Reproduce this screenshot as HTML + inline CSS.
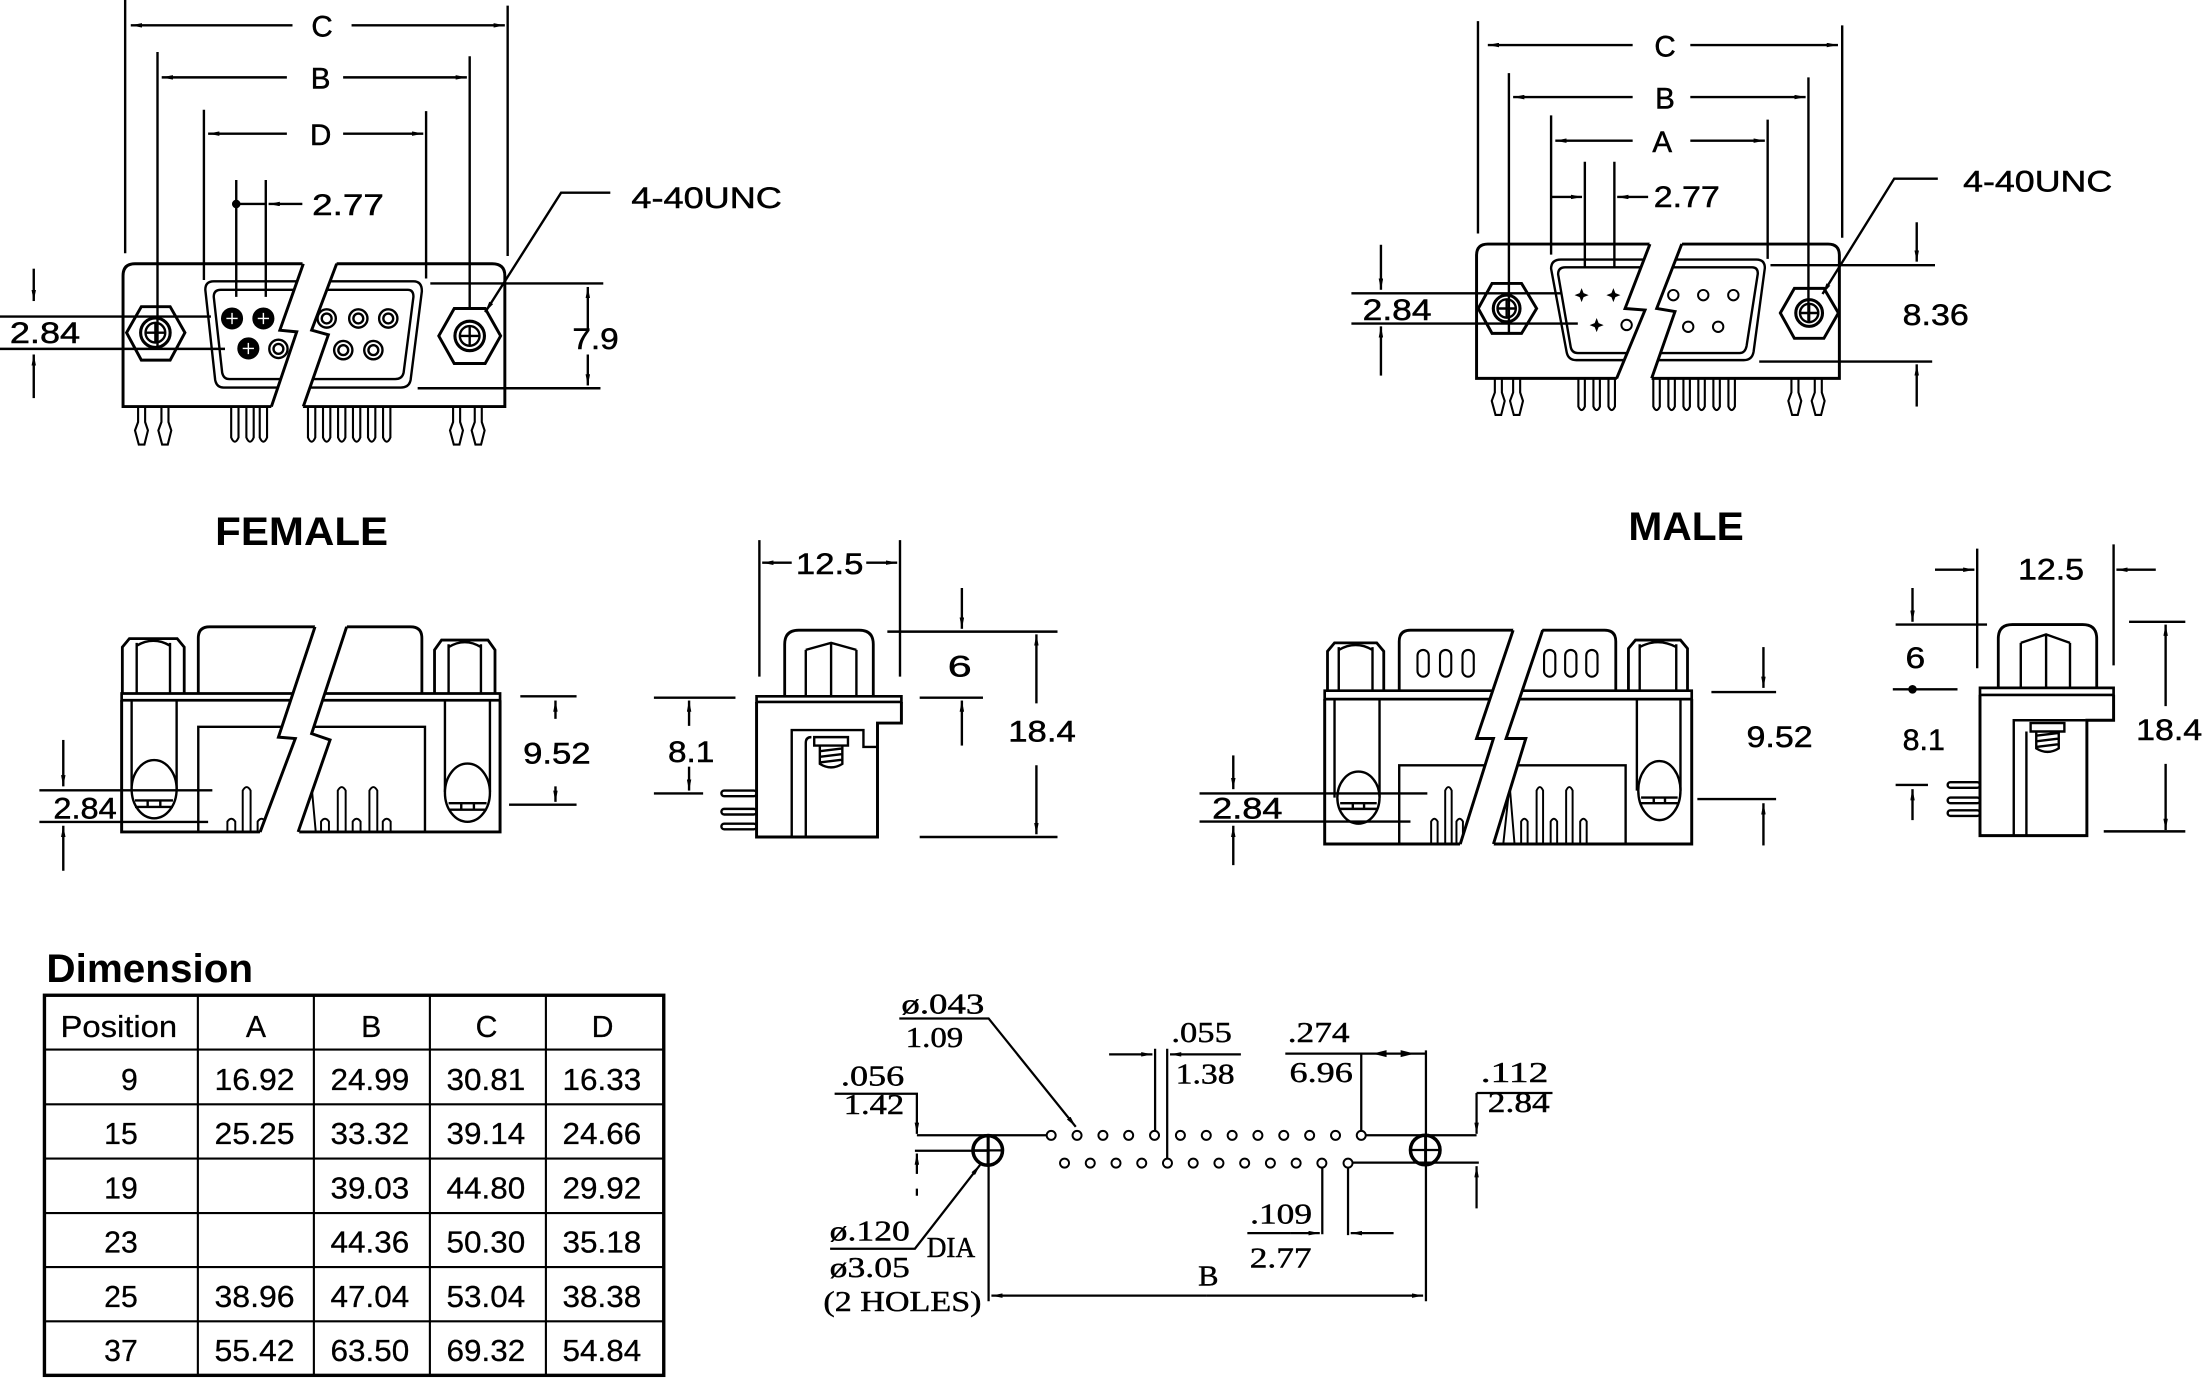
<!DOCTYPE html>
<html><head><meta charset="utf-8"><style>
html,body{margin:0;padding:0;background:#fff;}
svg{display:block}
.s{font-family:"Liberation Sans",Arial,sans-serif;font-size:21px;fill:#000;stroke:#000;stroke-width:0.35px}
.b{font-family:"Liberation Sans",Arial,sans-serif;font-weight:bold;fill:#000}
.m{font-family:"Liberation Serif","DejaVu Serif",serif;font-size:20px;fill:#000;stroke:#000;stroke-width:0.3px}
.t{font-family:"Liberation Sans",Arial,sans-serif;font-size:21.5px;fill:#000;stroke:#000;stroke-width:0.2px}
</style></head><body>
<svg width="2205" height="1380" viewBox="0 0 1568 981" preserveAspectRatio="none" xmlns="http://www.w3.org/2000/svg">
<defs>
<marker id="a" viewBox="0 0 10 4" refX="10" refY="2" markerWidth="8" markerHeight="3.2" markerUnits="userSpaceOnUse" orient="auto"><path d="M0,0L10,2L0,4z" fill="#000"/></marker>
</defs>
<rect width="1568" height="981" fill="#fff"/>

<!-- ================= FEMALE FRONT ================= -->
<g stroke="#000" stroke-width="1.7" fill="none">
<path d="M89,0V180M361,4V182M112,37V247M334,40V220M145,78V199M303,79V198M168,128V211M189,128V211M168,145H189M0,225H150M0,248H160M306,201.5H429M297,276H427"/>
<g marker-end="url(#a)">
<path d="M208,18H93"/><path d="M250,18H359"/><path d="M204,55H115"/><path d="M244,55H332"/>
<path d="M204,95H148"/><path d="M244,95H301"/><path d="M215,145H191"/>
<path d="M434,137H399L345,222"/>
<path d="M24,191V214"/><path d="M24,283V252"/><path d="M418,235V204"/><path d="M418,252V274"/>
</g>
<circle cx="168" cy="145" r="2.2" fill="#000"/>
<path stroke-width="2.1" d="M87.5,289V196Q87.5,187.5 96,187.5H350Q359,187.5 359,196V289Z"/>
<path d="M152,200H294Q300,200 300,207L292,270Q291,275.5 285,275.5H159Q154,275.5 153,270L146,206Q146,200 152,200Z"/>
<path d="M157,206H290Q294,206 294,211L287,265Q286,269.5 281,269.5H163Q159,269.5 158,265L152,211Q152,206 157,206Z"/>
<!-- sockets -->
<circle cx="165" cy="226.4" r="7" fill="#000"/><circle cx="187.3" cy="226.4" r="7" fill="#000"/><circle cx="176.6" cy="247.7" r="7" fill="#000"/>
<path stroke="#fff" stroke-width="1" d="M161,226.4H169M165,222.4V230.4M183.3,226.4H191.3M187.3,222.4V230.4M172.6,247.7H180.6M176.6,243.7V251.7"/>
<circle cx="198" cy="248" r="6.5"/><circle cx="198" cy="248" r="3.5"/>
<circle cx="232.3" cy="226.4" r="6.5"/><circle cx="232.3" cy="226.4" r="3.5"/>
<circle cx="254.8" cy="226.4" r="6.5"/><circle cx="254.8" cy="226.4" r="3.5"/>
<circle cx="276.1" cy="226.4" r="6.5"/><circle cx="276.1" cy="226.4" r="3.5"/>
<circle cx="244.1" cy="248.9" r="6.5"/><circle cx="244.1" cy="248.9" r="3.5"/>
<circle cx="265.5" cy="248.9" r="6.5"/><circle cx="265.5" cy="248.9" r="3.5"/>
<!-- nuts -->
<polygon stroke-width="2.1" points="90,236.5 100.5,218 121,218 131.5,236.5 121,256 100.5,256"/>
<circle cx="110.5" cy="236.5" r="10.5" stroke-width="2.2"/><circle cx="110.5" cy="236.5" r="7"/>
<path d="M103.5,236.5H117.5M110.5,229.5V243.5"/>
<polygon stroke-width="2.1" points="312,238.8 323,219.3 345,219.3 356,238.8 345,258.4 323,258.4"/>
<circle cx="334" cy="238.8" r="10.5" stroke-width="2.2"/><circle cx="334" cy="238.8" r="7"/>
<path d="M327,238.8H341M334,231.8V245.8"/>
<!-- break -->
<polygon fill="#fff" stroke="none" points="215.7,185 199,234.7 211,235.9 192.5,291 215,291 233.5,238 221.6,234.7 240,185"/>
<polyline stroke-width="2.1" points="215.7,187.5 199,234.7 211,235.9 193,289"/>
<polyline stroke-width="2.1" points="239.4,187.5 221.6,234.7 233.5,238 215.7,289"/>
<!-- pins -->
<g stroke-width="1.5">
<path d="M98.2,289.5V300L96,306L98.7,316H102.7L105.2,306L103.2,300V289.5"/>
<path d="M114.8,289.5V300L112.6,306L115.3,316H119.3L121.8,306L119.8,300V289.5"/>
<path d="M322.2,289.5V300L320,306L322.7,316H326.7L329.2,306L327.2,300V289.5"/>
<path d="M337.6,289.5V300L335.4,306L338.1,316H342.1L344.6,306L342.6,300V289.5"/>
<path d="M164.4,289.5V311Q167,317 169.6,311V289.5"/>
<path d="M175.2,289.5V311Q177.8,317 180.4,311V289.5"/>
<path d="M184.7,289.5V311Q187.3,317 189.9,311V289.5"/>
<path d="M219,289.5V311Q221.6,317 224.2,311V289.5"/>
<path d="M229.7,289.5V311Q232.3,317 234.9,311V289.5"/>
<path d="M240.4,289.5V311Q243,317 245.6,311V289.5"/>
<path d="M251,289.5V311Q253.6,317 256.2,311V289.5"/>
<path d="M261.7,289.5V311Q264.3,317 266.9,311V289.5"/>
<path d="M272.4,289.5V311Q275,317 277.6,311V289.5"/>
</g>
</g>
<text class="s" x="229" y="26" text-anchor="middle">C</text>
<text class="s" x="228" y="63" text-anchor="middle">B</text>
<text class="s" x="228" y="103" text-anchor="middle">D</text>
<text class="s" x="222" y="153" font-size="20" textLength="51" lengthAdjust="spacingAndGlyphs">2.77</text>
<text class="s" x="449" y="148" font-size="18.5" textLength="107" lengthAdjust="spacingAndGlyphs">4-40UNC</text>
<text class="s" x="7" y="244" textLength="50" lengthAdjust="spacingAndGlyphs">2.84</text>
<text class="s" x="407" y="248" font-size="23" textLength="33" lengthAdjust="spacingAndGlyphs">7.9</text>

<!-- ================= MALE FRONT ================= -->
<g stroke="#000" stroke-width="1.7" fill="none">
<path d="M1051,15V166M1310,18V169M1073,52V237M1286,55V228M1103,82V181M1257,85V184M1127,115V190M1148,115V190M961,208.5H1110M961,230H1122M1259,188.5H1376M1251,257H1374"/>
<g marker-end="url(#a)">
<path d="M1161,32H1058"/><path d="M1202,32H1307"/><path d="M1161,69H1076"/><path d="M1202,69H1284"/>
<path d="M1161,100H1106"/><path d="M1202,100H1255"/><path d="M1103,140H1125"/><path d="M1172,140H1150"/>
<path d="M1378,127H1347L1296,209"/>
<path d="M982,174V206"/><path d="M982,267V232"/><path d="M1363,158V186"/><path d="M1363,289V259"/>
</g>
<path stroke-width="2.1" d="M1050,269V181.5Q1050,173.5 1058,173.5H1300Q1308,173.5 1308,181.5V269Z"/>
<path d="M1110,184.5H1249Q1255,184.5 1255,190.5L1247,250Q1246,256 1240,256H1121Q1115,256 1114,250L1103,191Q1103,184.5 1110,184.5Z"/>
<path d="M1113,190H1246Q1250,190 1250,194.5L1242,246Q1241,251 1237,251H1122Q1118,251 1117,247L1108,195Q1108,190 1113,190Z"/>
<g fill="#000" stroke="none">
<path d="M1124.7,204.8L1126.1,208.4L1129.7,209.8L1126.1,211.2L1124.7,214.8L1123.3,211.2L1119.7,209.8L1123.3,208.4Z"/>
<path d="M1147.3,204.8L1148.7,208.4L1152.3,209.8L1148.7,211.2L1147.3,214.8L1145.9,211.2L1142.3,209.8L1145.9,208.4Z"/>
<path d="M1135.4,226.1L1136.8,229.7L1140.4,231.1L1136.8,232.5L1135.4,236.1L1134,232.5L1130.4,231.1L1134,229.7Z"/>
</g>
<g stroke-width="1.4">
<circle cx="1156.7" cy="231" r="3.7"/><circle cx="1189.9" cy="209.8" r="3.7"/><circle cx="1211.2" cy="209.8" r="3.7"/>
<circle cx="1232.6" cy="209.8" r="3.7"/><circle cx="1200.5" cy="232.3" r="3.7"/><circle cx="1221.8" cy="232.3" r="3.7"/>
</g>
<polygon stroke-width="2.1" points="1051.2,219.3 1061,201.5 1082,201.5 1092.7,219.3 1082,237 1061,237"/>
<circle cx="1071.4" cy="219.3" r="9.5" stroke-width="2.2"/><circle cx="1071.4" cy="219.3" r="6.5"/>
<path d="M1064.9,219.3H1077.9M1071.4,212.8V225.8"/>
<polygon stroke-width="2.1" points="1266,222.5 1276,205 1297,205 1307.3,222.5 1297,240.5 1276,240.5"/>
<circle cx="1286.5" cy="222.5" r="9.5" stroke-width="2.2"/><circle cx="1286.5" cy="222.5" r="6.5"/>
<path d="M1280,222.5H1293M1286.5,216V229"/>
<polygon fill="#fff" stroke="none" points="1173.3,172 1155.6,219.3 1169.8,220.4 1149.2,271 1174,271 1191.1,221.5 1178.1,219.3 1196.4,172"/>
<polyline stroke-width="2.1" points="1173.3,173.5 1155.6,219.3 1169.8,220.4 1149.6,269"/>
<polyline stroke-width="2.1" points="1195.9,173.5 1178.1,219.3 1191.1,221.5 1174.5,269"/>
<g stroke-width="1.5">
<path d="M1063,269V279L1060.8,285L1063.5,295H1067.5L1070,285L1068,279V269"/>
<path d="M1076,269V279L1073.8,285L1076.5,295H1080.5L1083,285L1081,279V269"/>
<path d="M1273.9,269V279L1271.7,285L1274.4,295H1278.4L1280.9,285L1278.9,279V269"/>
<path d="M1290.5,269V279L1288.3,285L1291,295H1295L1297.5,285L1295.5,279V269"/>
<path d="M1122.4,269V289Q1124.7,294 1127,289V269"/>
<path d="M1133.1,269V289Q1135.4,294 1137.7,289V269"/>
<path d="M1143.8,269V289Q1146.1,294 1148.4,289V269"/>
<path d="M1175.7,269V289Q1178,294 1180.3,289V269"/>
<path d="M1186.4,269V289Q1188.7,294 1191,289V269"/>
<path d="M1197.1,269V289Q1199.4,294 1201.7,289V269"/>
<path d="M1207.7,269V289Q1210,294 1212.3,289V269"/>
<path d="M1218.4,269V289Q1220.7,294 1223,289V269"/>
<path d="M1229.1,269V289Q1231.4,294 1233.7,289V269"/>
</g>
</g>
<text class="s" x="1184" y="40" font-size="20" text-anchor="middle">C</text>
<text class="s" x="1184" y="77" font-size="20" text-anchor="middle">B</text>
<text class="s" x="1182" y="108" font-size="20" text-anchor="middle">A</text>
<text class="s" x="1176" y="147" font-size="20" textLength="47" lengthAdjust="spacingAndGlyphs">2.77</text>
<text class="s" x="1396" y="136" font-size="18.5" textLength="106" lengthAdjust="spacingAndGlyphs">4-40UNC</text>
<text class="s" x="1353" y="231" font-size="20" textLength="47" lengthAdjust="spacingAndGlyphs">8.36</text>
<text class="s" x="969" y="227.5" textLength="49" lengthAdjust="spacingAndGlyphs">2.84</text>

<!-- ================= FEMALE SIDE VIEWS ================= -->
<text class="b" x="153" y="387.5" font-size="28" textLength="123" lengthAdjust="spacingAndGlyphs">FEMALE</text>
<g stroke="#000" stroke-width="1.7" fill="none">
<path stroke-width="2" d="M87,493V460L92,454H126L131,460V493"/>
<path d="M97.2,457V493M120.9,457V493M97.2,459Q109,452 120.9,459"/>
<path stroke-width="2" d="M309,493V462L314,455H347L352,462V493"/>
<path d="M319,458V493M342,458V493M319,460Q330.5,453 342,460"/>
<path stroke-width="2" d="M141,493V453.6Q141,445.6 149,445.6H292Q300,445.6 300,453.6V493"/>
<path stroke-width="1.9" d="M86.5,493H355.6V497.8H86.5Z"/>
<path stroke-width="2.1" d="M86.5,497.8V591.4H355.6V497.8"/>
<path d="M93.6,497.8V561M125.6,497.8V561M316.4,497.8V563M348.4,497.8V563"/>
<ellipse cx="109.6" cy="561" rx="16" ry="20.7" fill="#fff"/>
<ellipse cx="332.4" cy="563.5" rx="16" ry="20.7" fill="#fff"/>
<path d="M96,569H123M96,573.6H123M105,569V573.6M114,569V573.6M319,571H346M319,575.6H346M328,571V575.6M337,571V575.6"/>
<path d="M141,591.4V516.7H302.2V591.4"/>
<g stroke-width="1.4">
<path d="M161.7,591V584Q164.5,580 167.3,584V591"/>
<path d="M172.6,591V562Q175.4,557 178.2,562V591"/>
<path d="M183.2,591V584Q186,580 188.8,584V591"/>
<path d="M212,591L221.6,559L224.5,591"/>
<path d="M228.3,591V584Q231.1,580 233.9,584V591"/>
<path d="M240.2,591V562Q243,557 245.8,562V591"/>
<path d="M250.8,591V584Q253.6,580 256.4,584V591"/>
<path d="M262.7,591V562Q265.5,557 268.3,562V591"/>
<path d="M272.2,591V584Q275,580 277.8,584V591"/>
</g>
<polygon fill="#fff" stroke="none" points="224.6,443 198,524 210,525 184.5,593 212.5,593 234.7,526 221.6,521.5 247.3,443"/>
<polyline stroke-width="2.1" points="224,445.6 198,524 210,525 185,591.4"/>
<polyline stroke-width="2.1" points="246.5,445.6 221.6,521.5 234.7,526 212,591.4"/>
<path d="M370,495H410M362,572H410M28,561.8H151M28,584.3H148"/>
<g marker-end="url(#a)">
<path d="M395,511V498"/><path d="M395,559V570"/><path d="M45,526V559"/><path d="M45,619V587"/>
</g>
<!-- side view -->
<path d="M540,384V481M640,384V481"/>
<path stroke-width="1.9" d="M538,495H641V499H538Z"/>
<path stroke-width="2.1" d="M538,499V595H624V514H641V499"/>
<path stroke-width="2" d="M558,495V458Q558,448 568,448H611Q621,448 621,458V495"/>
<path d="M573,495V462M609,495V462M591,457V495M573,462L591,457L609,462"/>
<path d="M563,595V519H614V531H624M573,595V528Q573,524 577,524"/>
<path d="M579,524H603V530H579Z M583,530V543Q591,548 599,543V530M583,534L599,532M583,538L599,536M583,542L599,540"/>
<rect x="513" y="562" width="25" height="4" rx="2"/>
<rect x="513" y="575" width="25" height="4" rx="2"/>
<rect x="513" y="585.5" width="25" height="4" rx="2"/>
<path d="M465,496H523M465,564H500M631,449H752M654,496H699M654,595H752"/>
<g marker-end="url(#a)">
<path d="M563,400H542"/><path d="M616,400H638"/>
<path d="M490,516V498"/><path d="M490,545V562"/>
<path d="M684,418V447"/><path d="M684,530V498"/>
<path d="M737,500V451"/><path d="M737,544V593"/>
</g>
</g>
<text class="s" x="372" y="542.7" textLength="48" lengthAdjust="spacingAndGlyphs">9.52</text>
<text class="s" x="38" y="582" textLength="45" lengthAdjust="spacingAndGlyphs">2.84</text>
<text class="s" x="566" y="408" textLength="48" lengthAdjust="spacingAndGlyphs">12.5</text>
<text class="s" x="475" y="541.6" textLength="33" lengthAdjust="spacingAndGlyphs">8.1</text>
<text class="s" x="674" y="481" textLength="17" lengthAdjust="spacingAndGlyphs">6</text>
<text class="s" x="717" y="527" textLength="48" lengthAdjust="spacingAndGlyphs">18.4</text>

<!-- ================= MALE SIDE VIEWS ================= -->
<text class="b" x="1158" y="384" font-size="28" textLength="82" lengthAdjust="spacingAndGlyphs">MALE</text>
<g stroke="#000" stroke-width="1.7" fill="none">
<path stroke-width="2" d="M944,491V463L949,457H979L984,463V491"/>
<path d="M952,460V491M976,460V491M952,462Q964,455 976,462"/>
<path stroke-width="2" d="M1158,491V461L1163,455H1195L1200,461V491"/>
<path d="M1166,458V491M1192,458V491M1166,460Q1179,453 1192,460"/>
<path stroke-width="2" d="M995,491V456Q995,448 1003,448H1141Q1149,448 1149,456V491"/>
<g stroke-width="1.5">
<rect x="1008" y="462" width="8" height="19" rx="4"/><rect x="1024" y="462" width="8" height="19" rx="4"/><rect x="1040" y="462" width="8" height="19" rx="4"/>
<rect x="1098" y="462" width="8" height="19" rx="4"/><rect x="1113" y="462" width="8" height="19" rx="4"/><rect x="1128" y="462" width="8" height="19" rx="4"/>
</g>
<path stroke-width="1.9" d="M942,491H1203V497H942Z"/>
<path stroke-width="2.1" d="M942,497V600H1203V497"/>
<path d="M949,497V567M981,497V567M1164,497V562M1195,497V562"/>
<ellipse cx="966" cy="567" rx="15" ry="18.5" fill="#fff"/>
<ellipse cx="1180" cy="562" rx="15" ry="21" fill="#fff"/>
<path d="M953,571H979M953,575H979M962,571V575M970,571V575M1167,567H1193M1167,571H1193M1176,567V571M1184,567V571"/>
<path d="M995,600V544H1156V600"/>
<g stroke-width="1.4">
<path d="M1017.7,600V584Q1020,580 1022.3,584V600"/>
<path d="M1027.7,600V562Q1030,557 1032.3,562V600"/>
<path d="M1035.7,600V584Q1038,580 1040.3,584V600"/>
<path d="M1069,600L1073.5,558L1077,600"/>
<path d="M1081.7,600V584Q1084,580 1086.3,584V600"/>
<path d="M1092.7,600V562Q1095,557 1097.3,562V600"/>
<path d="M1102.7,600V584Q1105,580 1107.3,584V600"/>
<path d="M1113.7,600V562Q1116,557 1118.3,562V600"/>
<path d="M1123.7,600V584Q1126,580 1128.3,584V600"/>
</g>
<polygon fill="#fff" stroke="none" points="1076.5,446 1050,525 1062,525 1038,601.5 1062,601.5 1085,525 1071,525 1097.5,445"/>
<polyline stroke-width="2.1" points="1076,448 1050,525 1062,525 1038.4,600"/>
<polyline stroke-width="2.1" points="1097,448 1071,525 1085,525 1062,600"/>
<path d="M1217,492H1263M1207,568H1263M853,564H1015M853,584H1003"/>
<g marker-end="url(#a)">
<path d="M1254,460V489"/><path d="M1254,601V571"/><path d="M877,537V561"/><path d="M877,615V587"/>
</g>
<path d="M1406,390V475M1503,387V473"/>
<path stroke-width="2" d="M1421,489V454Q1421,444 1431,444H1481Q1491,444 1491,454V489"/>
<path d="M1437,489V457M1472,489V457M1437,457L1455,451L1472,457M1455,451V489"/>
<path stroke-width="1.9" d="M1408,489H1503V494H1408Z"/>
<path stroke-width="2.1" d="M1408,494V594H1484V512H1503V494"/>
<path d="M1432,594V512H1483M1441,594V520"/>
<path d="M1444,514H1468V520H1444Z M1448,520V532Q1456,537 1464,532V520M1448,523L1464,521M1448,527L1464,525M1448,531L1464,529"/>
<rect x="1385" y="556" width="23" height="4" rx="2"/>
<rect x="1385" y="567" width="23" height="4" rx="2"/>
<rect x="1385" y="576" width="23" height="4" rx="2"/>
<path d="M1348,444H1413M1346,490H1392M1348,558H1371M1514,442H1554M1496,591H1554"/>
<circle cx="1360" cy="490" r="2.2" fill="#000"/>
<g marker-end="url(#a)">
<path d="M1376,405H1404"/><path d="M1533,405H1505"/>
<path d="M1360,418V442"/><path d="M1360,583V561"/>
<path d="M1540,502V444"/><path d="M1540,543V590"/>
</g>
</g>
<text class="s" x="1242" y="531" textLength="47" lengthAdjust="spacingAndGlyphs">9.52</text>
<text class="s" x="862" y="582" textLength="50" lengthAdjust="spacingAndGlyphs">2.84</text>
<text class="s" x="1435" y="412" textLength="47" lengthAdjust="spacingAndGlyphs">12.5</text>
<text class="s" x="1355" y="475" textLength="14" lengthAdjust="spacingAndGlyphs">6</text>
<text class="s" x="1353" y="533" textLength="30" lengthAdjust="spacingAndGlyphs">8.1</text>
<text class="s" x="1519" y="526" textLength="47" lengthAdjust="spacingAndGlyphs">18.4</text>

<!-- ================= TABLE ================= -->
<text class="b" x="33" y="698" font-size="28" textLength="147" lengthAdjust="spacingAndGlyphs">Dimension</text>
<g stroke="#000" fill="none">
<rect x="31.6" y="707.5" width="440.4" height="270.2" stroke-width="2.4"/>
<path stroke-width="1.5" d="M140.7,707.5V977.7M223.2,707.5V977.7M305.7,707.5V977.7M388.2,707.5V977.7M31.6,746.1H472M31.6,785H472M31.6,823.6H472M31.6,862.3H472M31.6,900.7H472M31.6,939.3H472"/>
</g>
<text class="t" x="43" y="737" textLength="83" lengthAdjust="spacingAndGlyphs">Position</text>
<text class="t" x="182" y="737" text-anchor="middle">A</text>
<text class="t" x="264" y="737" text-anchor="middle">B</text>
<text class="t" x="346" y="737" text-anchor="middle">C</text>
<text class="t" x="428.5" y="737" text-anchor="middle">D</text>
<g class="t">
<text x="98" y="775" text-anchor="end">9</text>
<text x="98" y="813.4" text-anchor="end">15</text>
<text x="98" y="852" text-anchor="end">19</text>
<text x="98" y="890.5" text-anchor="end">23</text>
<text x="98" y="929" text-anchor="end">25</text>
<text x="98" y="967.5" text-anchor="end">37</text>
</g>
<g class="t">
<text x="152.5" y="775" textLength="57" lengthAdjust="spacingAndGlyphs">16.92</text>
<text x="235" y="775" textLength="56" lengthAdjust="spacingAndGlyphs">24.99</text>
<text x="317.5" y="775" textLength="56" lengthAdjust="spacingAndGlyphs">30.81</text>
<text x="400" y="775" textLength="56" lengthAdjust="spacingAndGlyphs">16.33</text>
<text x="152.5" y="813.4" textLength="57" lengthAdjust="spacingAndGlyphs">25.25</text>
<text x="235" y="813.4" textLength="56" lengthAdjust="spacingAndGlyphs">33.32</text>
<text x="317.5" y="813.4" textLength="56" lengthAdjust="spacingAndGlyphs">39.14</text>
<text x="400" y="813.4" textLength="56" lengthAdjust="spacingAndGlyphs">24.66</text>
<text x="235" y="852" textLength="56" lengthAdjust="spacingAndGlyphs">39.03</text>
<text x="317.5" y="852" textLength="56" lengthAdjust="spacingAndGlyphs">44.80</text>
<text x="400" y="852" textLength="56" lengthAdjust="spacingAndGlyphs">29.92</text>
<text x="235" y="890.5" textLength="56" lengthAdjust="spacingAndGlyphs">44.36</text>
<text x="317.5" y="890.5" textLength="56" lengthAdjust="spacingAndGlyphs">50.30</text>
<text x="400" y="890.5" textLength="56" lengthAdjust="spacingAndGlyphs">35.18</text>
<text x="152.5" y="929" textLength="57" lengthAdjust="spacingAndGlyphs">38.96</text>
<text x="235" y="929" textLength="56" lengthAdjust="spacingAndGlyphs">47.04</text>
<text x="317.5" y="929" textLength="56" lengthAdjust="spacingAndGlyphs">53.04</text>
<text x="400" y="929" textLength="56" lengthAdjust="spacingAndGlyphs">38.38</text>
<text x="152.5" y="967.5" textLength="57" lengthAdjust="spacingAndGlyphs">55.42</text>
<text x="235" y="967.5" textLength="56" lengthAdjust="spacingAndGlyphs">63.50</text>
<text x="317.5" y="967.5" textLength="56" lengthAdjust="spacingAndGlyphs">69.32</text>
<text x="400" y="967.5" textLength="56" lengthAdjust="spacingAndGlyphs">54.84</text>
</g>

<!-- ================= FOOTPRINT ================= -->
<g stroke="#000" stroke-width="1.6" fill="none">
<path d="M652,807H744M650.6,818H703M652,845V850M703,806V925M1014,746.7V925"/>
<path d="M821.4,745.5V804M830,745.5V823.5M914,749H1014M968,749V804M1050,777H1104M968,807H1050M958.6,826.5H1051.6M940.3,830V877.4M958.6,830V878M887,876.6H918"/>
<g marker-end="url(#a)">
<path d="M639.5,724H703L765,801"/>
<path d="M593.5,777.5H652V806"/>
<path d="M652,834.5V820"/>
<path d="M788.7,749.5H819.5"/><path d="M882.4,749.5H832"/>
<path d="M1050,777V806"/><path d="M1050,859V829"/>
<path d="M918,876.6H938.5"/><path d="M991,876.6H960.5"/>
<path d="M590.3,887.7H650.6L697,828"/>
<path d="M858,921H705"/><path d="M858,921H1012"/>
</g>
<path fill="#000" stroke="none" d="M976,749L986,746.5V751.5Z M1006,749L996,746.5V751.5Z"/>
<circle cx="702.4" cy="817.8" r="10.5" stroke-width="2.5"/>
<path d="M691.9,817.8H712.9M702.4,807.3V828.3"/>
<circle cx="1013.5" cy="817.5" r="10.5" stroke-width="2.5"/>
<path d="M1003,817.5H1024M1013.5,807V828"/>
<g stroke-width="1.4" fill="#fff">
<circle cx="747.5" cy="807.1" r="3.2"/><circle cx="765.9" cy="807.1" r="3.2"/><circle cx="784.3" cy="807.1" r="3.2"/>
<circle cx="802.6" cy="807.1" r="3.2"/><circle cx="821" cy="807.1" r="3.2"/><circle cx="839.4" cy="807.1" r="3.2"/>
<circle cx="857.8" cy="807.1" r="3.2"/><circle cx="876.2" cy="807.1" r="3.2"/><circle cx="894.5" cy="807.1" r="3.2"/>
<circle cx="912.9" cy="807.1" r="3.2"/><circle cx="931.3" cy="807.1" r="3.2"/><circle cx="949.7" cy="807.1" r="3.2"/>
<circle cx="968" cy="807.1" r="3.2"/>
<circle cx="757" cy="826.8" r="3.2"/><circle cx="775.3" cy="826.8" r="3.2"/><circle cx="793.6" cy="826.8" r="3.2"/>
<circle cx="811.9" cy="826.8" r="3.2"/><circle cx="830.2" cy="826.8" r="3.2"/><circle cx="848.5" cy="826.8" r="3.2"/>
<circle cx="866.8" cy="826.8" r="3.2"/><circle cx="885.1" cy="826.8" r="3.2"/><circle cx="903.4" cy="826.8" r="3.2"/>
<circle cx="921.7" cy="826.8" r="3.2"/><circle cx="940" cy="826.8" r="3.2"/><circle cx="958.6" cy="826.8" r="3.2"/>
</g>
</g>
<g class="m">
<text x="641" y="720.6" textLength="59" lengthAdjust="spacingAndGlyphs">ø.043</text>
<text x="644" y="744.3" textLength="41" lengthAdjust="spacingAndGlyphs">1.09</text>
<text x="598" y="771.6" textLength="45" lengthAdjust="spacingAndGlyphs">.056</text>
<text x="600" y="792" textLength="43" lengthAdjust="spacingAndGlyphs">1.42</text>
<text x="833" y="740.7" textLength="43" lengthAdjust="spacingAndGlyphs">.055</text>
<text x="836" y="770.4" textLength="42" lengthAdjust="spacingAndGlyphs">1.38</text>
<text x="915.7" y="740.7" textLength="44" lengthAdjust="spacingAndGlyphs">.274</text>
<text x="917" y="769" textLength="45" lengthAdjust="spacingAndGlyphs">6.96</text>
<text x="1053" y="769" textLength="48" lengthAdjust="spacingAndGlyphs">.112</text>
<text x="1058" y="790.6" textLength="44" lengthAdjust="spacingAndGlyphs">2.84</text>
<text x="889" y="869.8" textLength="44" lengthAdjust="spacingAndGlyphs">.109</text>
<text x="888.7" y="901" textLength="44" lengthAdjust="spacingAndGlyphs">2.77</text>
<text x="590" y="881.8" textLength="57" lengthAdjust="spacingAndGlyphs">ø.120</text>
<text x="659" y="893.6" textLength="34.5" lengthAdjust="spacingAndGlyphs">DIA</text>
<text x="590" y="907.8" textLength="57" lengthAdjust="spacingAndGlyphs">ø3.05</text>
<text x="585.5" y="932" textLength="112.5" lengthAdjust="spacingAndGlyphs">(2 HOLES)</text>
<text x="852" y="914" textLength="14.5" lengthAdjust="spacingAndGlyphs">B</text>
</g>
</svg>
</body></html>
